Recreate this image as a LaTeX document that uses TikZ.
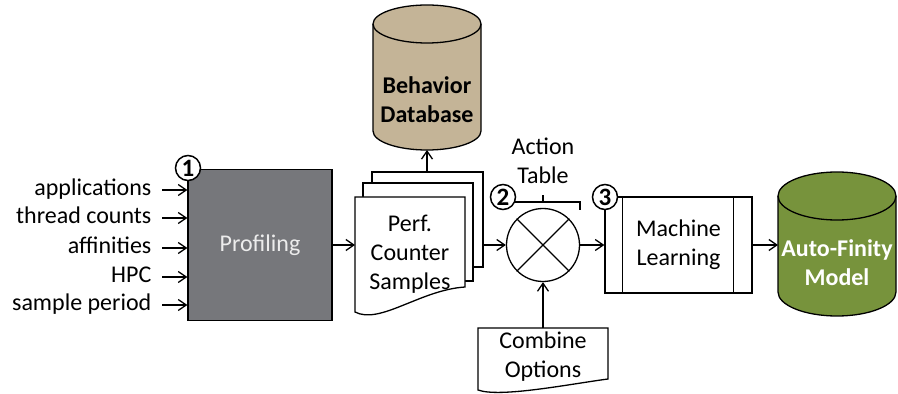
\documentclass[tikz,border=0pt]{standalone}
\usepackage{fontspec}
\setmainfont{Carlito}
\usetikzlibrary{arrows.meta,calc}
\definecolor{profgray}{RGB}{118,119,123}
\definecolor{proftext}{RGB}{236,236,236}
\definecolor{dbtan}{RGB}{196,180,151}
\definecolor{modelgreen}{RGB}{119,147,60}
\begin{document}
\begin{tikzpicture}[x=1pt,y=1pt,
  line width=1.3pt,
  arr/.style={-{Straight Barb[length=8pt,width=11pt,line width=1.3pt]}},
  lbl/.style={font=\fontsize{24}{29}\selectfont, inner sep=0pt, align=center},
  blbl/.style={font=\fontsize{24}{29}\selectfont\bfseries, inner sep=0pt, align=center},
  inlbl/.style={lbl, anchor=east, text height=17pt, text depth=5pt},
  num/.style={circle, draw, fill=white, line width=1.5pt, minimum size=25pt, inner sep=0pt, font=\fontsize{25}{25}\selectfont\bfseries},
]
\useasboundingbox (0,0) rectangle (898,394);

% Profiling
\node[draw, fill=profgray, minimum width=144pt, minimum height=151pt, lbl, text=proftext] (prof) at (260,149) {Profiling};

% inputs
\node[inlbl] (in1) at (152,204) {applications};
\node[inlbl] (in2) at (152,176) {thread counts};
\node[inlbl] (in3) at (152,146) {affinities};
\node[inlbl] (in4) at (152,117) {HPC};
\node[inlbl] (in5) at (152,89) {sample period};
\foreach \n in {in1,in2,in3,in4,in5}
  \draw[arr] ([xshift=10pt]\n.east) -- (\n.east -| prof.west);

% document stack
\draw[fill=white] (372,127) rectangle (483,222);
\draw[fill=white] (363,113) rectangle (473,211);
\draw[fill=white] (355,197) -- (465,197) -- (465,107) .. controls (420,104) and (380,69) .. (355,82) -- cycle;
\node[lbl] (samples) at (410,140) {Perf.\\Counter\\Samples};
\coordinate (docsW) at (355,149);
\coordinate (docsE) at (483,149);
\coordinate (docsN) at (427,222);

% Behavior Database cylinder
\filldraw[fill=dbtan] (373,370) -- (373,263) arc[start angle=180,end angle=360,x radius=54,y radius=19] -- (481,370) arc[start angle=0,end angle=180,x radius=54,y radius=19] -- cycle;
\draw (373,370) arc[start angle=180,end angle=360,x radius=54,y radius=19];
\node[blbl] (bdb) at (427,294) {Behavior\\Database};
\coordinate (bdbS) at (427,244);

% combiner
\node[circle, draw, minimum size=73pt, inner sep=0pt] (mix) at (543,149) {};
\draw (mix.north west) -- (mix.south east);
\draw (mix.north east) -- (mix.south west);

% action table
\node[lbl] (act) at (543,233) {Action\\Table};
\draw (515,192) -- (580,192) -- (580,184);
\draw (543,192) -- (543,199);

% combine options
\draw[fill=white] (478,66) -- (608,66) -- (608,15) .. controls (570,10) and (500,-4) .. (478,4) -- cycle;
\node[lbl] (comb) at (543,37) {Combine\\Options};
\coordinate (combN) at (543,66);

% machine learning
\node[draw, minimum width=147pt, minimum height=96pt, lbl] (ml) at (678.5,149) {Machine\\Learning};
\draw ([xshift=18pt]ml.north west) -- ([xshift=18pt]ml.south west);
\draw ([xshift=-19pt]ml.north east) -- ([xshift=-19pt]ml.south east);

% Auto-Finity model cylinder
\filldraw[fill=modelgreen] (778,198) -- (778,102) arc[start angle=180,end angle=360,x radius=59,y radius=24] -- (896,198) arc[start angle=0,end angle=180,x radius=59,y radius=24] -- cycle;
\draw (778,198) arc[start angle=180,end angle=360,x radius=59,y radius=24];
\node[blbl, text=white] (afm) at (837,131) {Auto-Finity\\Model};
\coordinate (afmW) at (778,149);

% connectors
\draw[arr] (prof.east) -- (docsW);
\draw[arr] (docsN) -- (bdbS);
\draw[arr] (docsE) -- (mix.west);
\draw[arr] (combN) -- (mix.south);
\draw[arr] (mix.east) -- (ml.west);
\draw[arr] (ml.east) -- (afmW);

% step numbers
\node[num] (n1) at (188,226) {1};
\node[num] (n2) at (503,197) {2};
\node[num] (n3) at (605,197) {3};
\end{tikzpicture}
\end{document}
